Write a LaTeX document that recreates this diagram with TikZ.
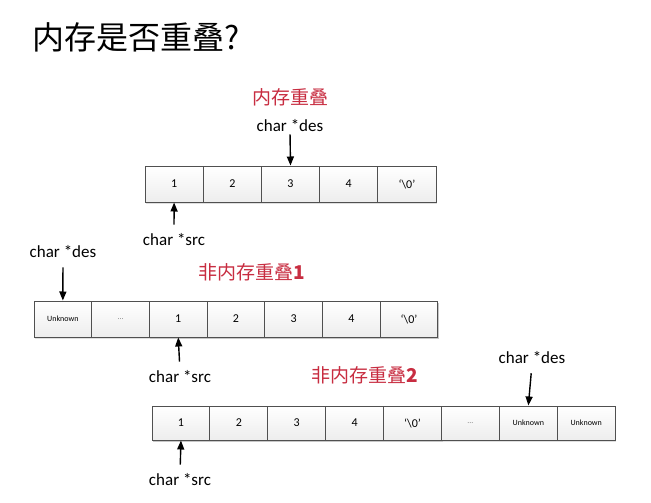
\documentclass[tikz,border=0pt]{standalone}
\usepackage{fontspec}
\setmainfont{Carlito}
\newfontfamily\cjk{Noto Sans CJK SC}
\usetikzlibrary{arrows.meta,shadows}
\definecolor{redlbl}{RGB}{200,45,65}
\definecolor{celledge}{RGB}{80,80,80}
\tikzset{
  cell/.style={draw=celledge, line width=1pt, top color=white, bottom color=gray!14,
    minimum height=#1, inner sep=0pt, font=\fontsize{12}{13}\selectfont,
    drop shadow={shadow xshift=1pt, shadow yshift=-1.5pt, opacity=0.25}},
  ptr/.style={font=\fontsize{17}{18}\selectfont, inner sep=0pt},
  redtitle/.style={font=\cjk\fontsize{19}{20}\selectfont, text=redlbl, inner sep=0pt},
  arr/.style={line width=1.4pt, -{Triangle[length=9pt,width=7pt]}},
  small/.style={font=\fontsize{8}{9}\selectfont}
}
\begin{document}
\begin{tikzpicture}[x=1pt,y=-1pt]
\useasboundingbox[fill=white] (0,0) rectangle (651,503);
\node[anchor=west, font=\cjk\fontsize{32}{34}\selectfont, inner sep=0pt] (title) at (32,37) {内存是否重叠?};
% Row 1
\foreach \t [count=\i] in {1,2,3,4,‘\textbackslash 0’}
  \node[cell=36pt, minimum width=58.2pt] (r1c\i) at ({145+(\i-0.5)*58.2},184) {\t};
\node[redtitle] (lab1) at (290,97) {内存重叠};
\node[ptr] (des1) at (290,126) {char *des};
\node[ptr] (src1) at (174,240) {char *src};
\draw[arr, shorten <=2pt] (des1.south) -- (r1c3.north);
\draw[arr, shorten <=9pt] (src1.north) -- (r1c1.south);
% Row 2
\foreach \t/\s [count=\i] in {Unknown/small,\textcolor{gray}{...}/small,1/cell,2/cell,3/cell,4/cell,‘\textbackslash 0’/cell}
  \node[cell=36pt, minimum width=57.7pt, \s] (r2c\i) at ({34+(\i-0.5)*57.7},319) {\t};
\node[redtitle] (lab2) at (252,272) {非内存重叠\textbf{1}};
\node[ptr] (des2) at (63,252) {char *des};
\node[ptr] (src2) at (180,377) {char *src};
\draw[arr, shorten <=9pt] (des2.south) -- (r2c1.north);
\draw[arr, shorten <=9pt] (src2.north) -- (r2c3.south);
% Row 3
\foreach \t/\s [count=\i] in {1/cell,2/cell,3/cell,4/cell,‘\textbackslash 0’/cell,\textcolor{gray}{...}/small,Unknown/small,Unknown/small}
  \node[cell=34pt, minimum width=57.9pt, \s] (r3c\i) at ({152+(\i-0.5)*57.9},423) {\t};
\node[redtitle] (lab3) at (365,375) {非内存重叠\textbf{2}};
\node[ptr] (des3) at (532,358) {char *des};
\node[ptr] (src3) at (180,480) {char *src};
\draw[arr, shorten <=9pt] (des3.south) -- (r3c7.north);
\draw[arr, shorten <=9pt] (src3.north) -- (r3c1.south);
\end{tikzpicture}
\end{document}
